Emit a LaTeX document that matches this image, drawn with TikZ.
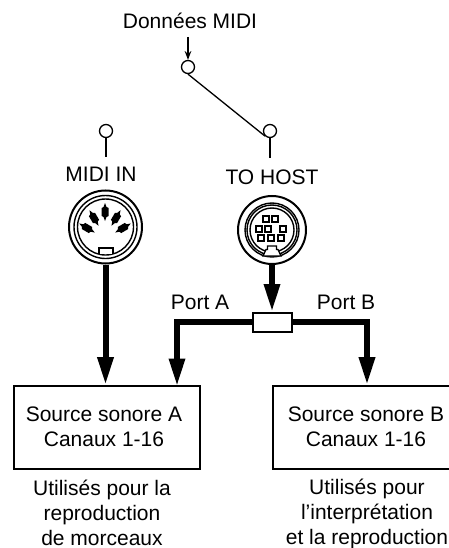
\documentclass[tikz,border=0pt]{standalone}
\usepackage{fontspec}
\setmainfont{Liberation Sans}
\usetikzlibrary{arrows.meta}
\tikzset{>=Stealth,every node/.style={font=\fontsize{21}{25}\selectfont,align=center},
 wire/.style={line width=1.3pt},
 bus/.style={line width=6pt},
 flow/.style={bus,-{Triangle[length=28pt,width=15pt]},shorten >=-.5pt},
 ring/.style={circle,draw,line width=1.4pt,minimum size=#1,inner sep=0pt},
 term/.style={circle,draw,line width=1.3pt,minimum size=13pt,inner sep=0pt},
 srcbox/.style={draw,line width=2.6pt,minimum height=83pt,inner sep=0pt},
 pinhole/.style={draw,line width=1.2pt,fill=white,minimum size=6pt,inner sep=0pt}}
\begin{document}
\begin{tikzpicture}[x=1pt,y=-1pt]
\useasboundingbox (0,0) rectangle (449,548);
% switch
\node (data) at (190,21){Données MIDI};
\node[term] (in) at (188,67){};
\node[term] (hostterm) at (270,131){};
\node[term] (miditerm) at (106,131){};
\coordinate (datatop) at (188,37);
\draw[wire,->] (datatop)--(in.north);
\draw[wire] (in.south)--(hostterm.south west);
\node (midilabel) at (101,174){MIDI IN};
\node (hostlabel) at (272,177){TO HOST};
\coordinate (midistub) at (106,157);
\coordinate (hoststub) at (270,158);
\draw[wire] (miditerm.south)--(midistub);
\draw[wire] (hostterm.south)--(hoststub);
% MIDI IN socket
\node[ring=73pt,line width=2pt] (midiin) at (105.5,227){};
\node[ring=63pt] at (midiin){};
\node[ring=56pt] at (midiin){};
\foreach \px/\py/\pa in {105/212/90,94/218/120,116/218/60,87/228/150,123/228/30}
 \fill[shift={(\px,\py)},rotate=\pa] (-9,0)--(-5,-1.5)--(-4,-3.5)--(4,-3.5)--(5,-1.5)--(9,0)--(5,1.5)--(4,3.5)--(-4,3.5)--(-5,1.5)--cycle;
\draw[wire,fill=white] (99,254)--(99,248)--(113,248)--(113,254);
% TO HOST socket
\node[ring=68pt,line width=2pt] (host) at (272,230){};
\node[ring=54pt] at (host){};
\node[ring=50pt] at (host){};
\node[ring=44pt] at (host){};
\foreach \px/\py in {266/219,275/219,259/229,268/229,283/229,261/238,271/238,281/238}
 \node[pinhole] at (\px,\py){};
\draw[wire,fill=white] (263,256)--(266,249.5)--(267.5,249.5)--(267.5,246)--(276.5,246)--(276.5,249.5)--(278,249.5)--(281,256)--cycle;
% sound sources
\node[srcbox,minimum width=186pt] (boxA) at (107,427.5){};
\node[srcbox,minimum width=188pt] (boxB) at (367,427.5){};
\node (srcA) at (104,426.5){Source sonore A\\Canaux 1-16};
\node (srcB) at (366,426.5){Source sonore B\\Canaux 1-16};
\node[inner sep=0pt] (useA) at (102,512.5){Utilisés pour la\\reproduction\\de morceaux};
\node[inner sep=0pt] (useB) at (367,514){Utilisés pour\\l'interprétation\\et la reproduction};
% ports
\node[draw,line width=2pt,fill=white,minimum width=39pt,minimum height=19pt,inner sep=0pt] (split) at (272,322){};
\node (portA) at (200,302){Port A};
\node (portB) at (346,302){Port B};
\coordinate (inA) at (177,386);
\draw[flow] (midiin.south)--(midiin.south|-boxA.north);
\draw[flow] (host.south)--(split.north);
\draw[flow] (split.west)-|(inA);
\draw[flow] (split.east)-|(boxB.north);
\end{tikzpicture}
\end{document}
